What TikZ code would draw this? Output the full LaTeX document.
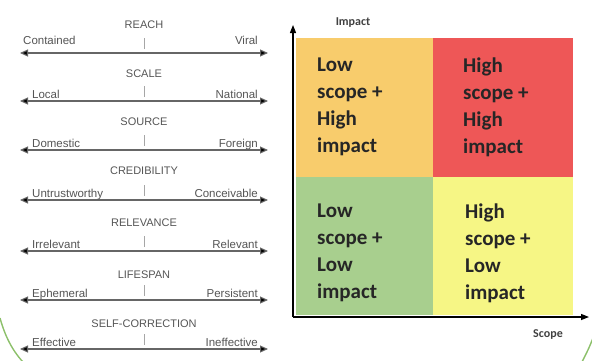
\documentclass[tikz,border=0pt]{standalone}
\usepackage{fontspec}
\setmainfont{Liberation Sans}
\newfontfamily\carl{Carlito}
\usetikzlibrary{arrows.meta}
\definecolor{qorange}{HTML}{F8CC6C}
\definecolor{qred}{HTML}{EE5757}
\definecolor{qgreen}{HTML}{A8CF8E}
\definecolor{qyellow}{HTML}{F6F685}
\definecolor{txtgray}{HTML}{555555}
\definecolor{arcgreen}{HTML}{8CC06A}
\tikzset{
  x=1pt, y=-1pt,
  ttl/.style={font=\fontsize{11}{12}\selectfont, text=txtgray, inner sep=0pt},
  lbl/.style={font=\fontsize{11.5}{12}\selectfont, text=txtgray, inner sep=0pt},
  scale line/.style={draw=gray!80!black, line width=1.1pt, {Triangle[length=8pt,width=7pt,fill=black]}-{Triangle[length=8pt,width=7pt,fill=black]}},
  midtick/.style={draw=gray!70, line width=0.6pt},
  axis/.style={draw=black, line width=1.3pt, -{Triangle[length=8pt,width=6pt]}},
  qtext/.style={font=\carl\bfseries\fontsize{21}{27}\selectfont, text=black!85, align=left, anchor=north west, inner sep=0pt},
  axlbl/.style={font=\carl\bfseries\fontsize{12}{13}\selectfont, text=black!75, inner sep=0pt},
  arc/.style={draw=arcgreen, line width=1.4pt}
}
\begin{document}
\begin{tikzpicture}
\useasboundingbox (0,0) rectangle (592,360);
% left panel scales
\foreach \i/\title/\lft/\rgt/\ly/\ty/\lo in {
  1/REACH/Contained/Viral/53/25/9,
  2/SCALE/Local/National/101/74/2.5,
  3/SOURCE/Domestic/Foreign/150/122/2.5,
  4/CREDIBILITY/Untrustworthy/Conceivable/200/171/2.5,
  5/RELEVANCE/Irrelevant/Relevant/251/223/2.5,
  6/LIFESPAN/Ephemeral/Persistent/300/275/2.5,
  7/SELF-CORRECTION/Effective/Ineffective/349/324/2.5} {
  \coordinate (l\i) at (20,\ly);
  \coordinate (r\i) at (268,\ly);
  \coordinate (ta\i) at (144,\ly-4);
  \coordinate (tb\i) at (144,\ly-15);
  \draw[scale line] (l\i) -- (r\i);
  \draw[midtick] (ta\i) -- (tb\i);
  \node[ttl] (t\i) at (144,\ty) {\title};
  \pgfmathsetmacro{\lx}{\i==1 ? 23 : 32}
  \node[lbl, anchor=base west] (a\i) at (\lx,\ly-\lo) {\lft};
  \node[lbl, anchor=base east] (b\i) at (258,\ly-\lo) {\rgt};
}
% quadrants
\fill[qorange] (296,38) rectangle (433,177);
\fill[qred] (433,38) rectangle (573,177);
\fill[qgreen] (296,177) rectangle (433,315);
\fill[qyellow] (433,177) rectangle (573,315);
\node[qtext] (q1) at (317,58) {Low\\scope +\\High\\impact};
\node[qtext] (q2) at (463,58) {High\\scope +\\High\\impact};
\node[qtext] (q3) at (317,204) {Low\\scope +\\Low\\impact};
\node[qtext] (q4) at (465,204) {High\\scope +\\Low\\impact};
% axes
\coordinate (o) at (293,317);
\coordinate (ytip) at (293,25);
\coordinate (xtip) at (589,317);
\draw[axis] (o) -- (ytip);
\draw[axis] (o) -- (xtip);
\node[axlbl] (imp) at (353,23) {Impact};
\node[axlbl] (scp) at (548,335) {Scope};
% decorative arcs
\draw[arc] (0,318) .. controls (5,336) and (12,350) .. (23,362);
\draw[arc] (593,338) .. controls (589,348) .. (582,362);
\end{tikzpicture}
\end{document}
